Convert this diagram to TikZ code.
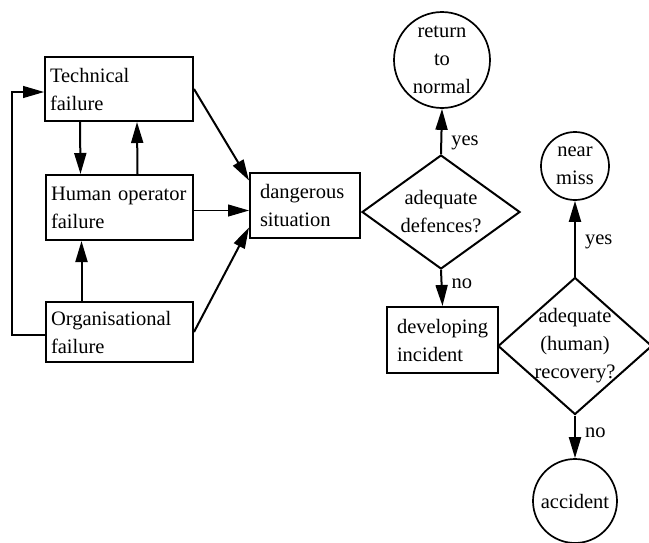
\documentclass[tikz,border=0pt]{standalone}
\usepackage{fontspec}
\setmainfont{Liberation Serif}
\usetikzlibrary{arrows.meta,shapes.geometric}

\begin{document}
\begin{tikzpicture}[x=1pt,y=-1pt,
   font=\fontsize{20.5}{28}\selectfont,
   failbox/.style={draw,line width=2pt,align=left,inner xsep=5pt,inner ysep=0pt},
   decision/.style={draw,diamond,line width=2pt,inner sep=0pt},
   event/.style={draw,circle,line width=1.7pt,align=center,inner sep=0pt},
   arr/.style={line width=2pt,-{Triangle[length=21pt,width=12pt]}},
   thinarr/.style={line width=1.1pt,-{Triangle[length=21pt,width=12pt]}},
   lab/.style={right,inner sep=9pt}]
   \useasboundingbox (0,0) rectangle (649,542);

   % causes
   \node[failbox,minimum width=148pt,minimum height=64pt,text width=138pt] (tech) at (119,89) {Technical\\failure};
   \node[failbox,minimum width=147pt,minimum height=65pt,text width=137pt] (human) at (119.5,207.5) {Human operator\\failure};
   \node[failbox,minimum width=147pt,minimum height=60pt,text width=137pt] (org) at (119.5,332) {Organisational\\failure};

   % sequence
   \node[failbox,minimum width=110pt,minimum height=65pt,text width=90pt,inner xsep=10pt] (danger) at (305,205.5) {dangerous\\situation};
   \node[decision,minimum width=158pt,minimum height=114pt] (defence) at (441,212) {};
   \node[align=center] (defencetxt) at (defence.center) {adequate\\defences?};
   \node[event,minimum size=96pt] (normal) at (442,60) {return\\to\\normal};
   \node[failbox,minimum width=111pt,minimum height=66pt,text width=91pt,inner xsep=10pt] (develop) at (442.5,340) {developing\\incident};
   \node[decision,minimum width=154pt,minimum height=137pt] (recover) at (575,346) {};
   \node[align=center] (recovertxt) at (recover.center) {adequate\\(human)\\recovery?};
   \node[event,minimum size=68pt] (nearmiss) at (575,166) {near\\miss};
   \node[event,minimum size=84pt] (accident) at (575,501) {accident};

   \draw[arr] ([xshift=-39pt]tech.south) -- ([xshift=-39pt]human.north);
   \draw[arr] ([xshift=18pt]human.north) -- ([xshift=18pt]tech.south);
   \draw[arr] ([xshift=-38pt]org.north) -- ([xshift=-38pt]human.south);
   \draw[thinarr] ([yshift=-3pt]org.west) -- ++(-33,0) |- ([yshift=-3pt]tech.west);

   \draw[arr] (tech.east) -- ([yshift=25pt]danger.west);
   \draw[thinarr] ([yshift=-3pt]human.east) -- ([yshift=-5pt]danger.west);
   \draw[arr] (org.east) -- ([yshift=-22pt]danger.west);

   \draw[arr] (defence.north) -- node[lab,pos=0.25] {yes} (normal.south);
   \draw[arr] (defence.south) -- node[lab,pos=0.37] {no} (develop.north);
   \draw[arr] (recover.north) -- node[lab,pos=0.46] {yes} (nearmiss.south);
   \draw[arr] (recover.south) -- node[lab,pos=0.4] {no} (accident.north);
\end{tikzpicture}
\end{document}
